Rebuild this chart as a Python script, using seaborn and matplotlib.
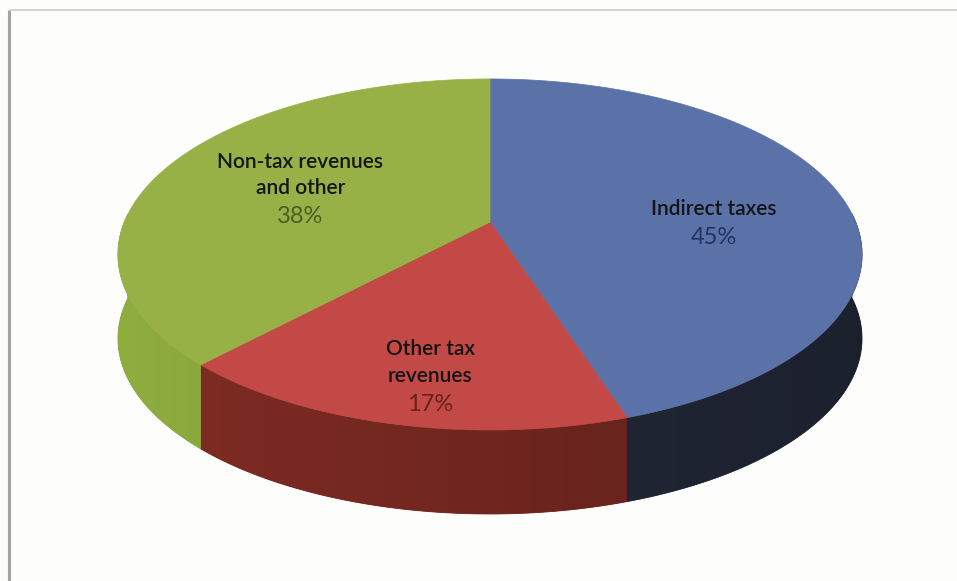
import numpy as np
import matplotlib
matplotlib.use("Agg")
import matplotlib.pyplot as plt
import seaborn as sns
from matplotlib.patches import Polygon

# ---- data ----
categories = ["Indirect taxes", "Other tax\nrevenues", "Non-tax revenues\nand other"]
values = [45, 17, 38]
top_colors = ["#5a72a8", "#c24945", "#97b147"]
side_colors = ["#252b3c", "#7a2a22", "#88a43c"]
pct_colors = ["#26335e", "#6a221d", "#4c5f22"]

sns.set_theme(style="white")
plt.rcParams['font.family'] = ['Lato', 'DejaVu Sans']

W, H = 957, 581
fig = plt.figure(figsize=(W / 100, H / 100), dpi=100)
fig.patch.set_facecolor("#fdfdfb")
ax = fig.add_axes([0, 0, 1, 1])
ax.set_xlim(0, W)
ax.set_ylim(H, 0)
ax.axis("off")

# frame (left & top border of the chart area)
ax.plot([9, 9], [10, H], color="#a4a4a4", lw=2.2, solid_capstyle="butt")
ax.plot([9, W], [10, 10], color="#d6d6d6", lw=1.5, solid_capstyle="butt")

# ---- projection (perspective tilted disk) ----
cx, cy = 490, 222
A, B, k = 365.6, 169.5, 0.185
D = 84


def proj(t, r=1.0):
    u, v = r * np.cos(t), r * np.sin(t)
    w = 1 + k * v
    return cx + A * u / w, cy - B * v / w


total = sum(values)
fracs = np.array(values) / total
starts = np.pi / 2 - 2 * np.pi * np.concatenate([[0], np.cumsum(fracs)[:-1]])
ends = starts - 2 * np.pi * fracs

# sides (draw first), with horizontal gradient clipped to each side polygon
gx = np.linspace(0, 1, 256)
for i in range(len(values)):
    ts = np.linspace(starts[i], ends[i], 300)
    ts = ts[np.sin(ts) < 0.05]
    if len(ts) < 2:
        continue
    xs, ys = proj(ts)
    pts = np.column_stack([np.concatenate([xs, xs[::-1]]),
                           np.concatenate([ys, ys[::-1] + D])])
    poly = Polygon(pts, closed=True, facecolor=side_colors[i],
                   edgecolor=side_colors[i], lw=0.6)
    ax.add_patch(poly)
    base = np.array(matplotlib.colors.to_rgb(side_colors[i]))
    f = 1.06 - 0.30 * gx  # lighter on left, darker to the right
    img = np.clip(base[None, None, :] * f[None, :, None], 0, 1)
    im = ax.imshow(img, extent=[110, 870, 560, 150], aspect="auto",
                   interpolation="bilinear", zorder=1.5)
    im.set_clip_path(poly)

# top faces
for i in range(len(values)):
    ts = np.linspace(starts[i], ends[i], 300)
    xs, ys = proj(ts)
    pts = np.column_stack([np.concatenate([[cx], xs]), np.concatenate([[cy], ys])])
    ax.add_patch(Polygon(pts, closed=True, facecolor=top_colors[i],
                         edgecolor=top_colors[i], lw=0.5, zorder=2))

ax.set_xlim(0, W)
ax.set_ylim(H, 0)

# labels: (radial fraction, vertical shift) per slice
label_r = [0.63, 0.66, 0.58]
label_dy = [16, 29, 0]
line_pitch = 26.5
pct_gap = 28.5
for i in range(len(values)):
    tm = (starts[i] + ends[i]) / 2
    x, c = proj(tm, label_r[i])
    c += label_dy[i]
    lines = categories[i].split("\n")
    n = len(lines)
    y1 = c - (line_pitch * (n - 1) + pct_gap) / 2
    for j, ln in enumerate(lines):
        ax.text(x, y1 + j * line_pitch, ln, ha="center", va="center_baseline",
                fontsize=15, color="#141414", fontweight="semibold", zorder=3)
    ax.text(x, y1 + (n - 1) * line_pitch + pct_gap, f"{values[i]}%",
            ha="center", va="center_baseline", fontsize=17,
            color=pct_colors[i], zorder=3)

fig.savefig("out.png", dpi=100, facecolor=fig.get_facecolor())
